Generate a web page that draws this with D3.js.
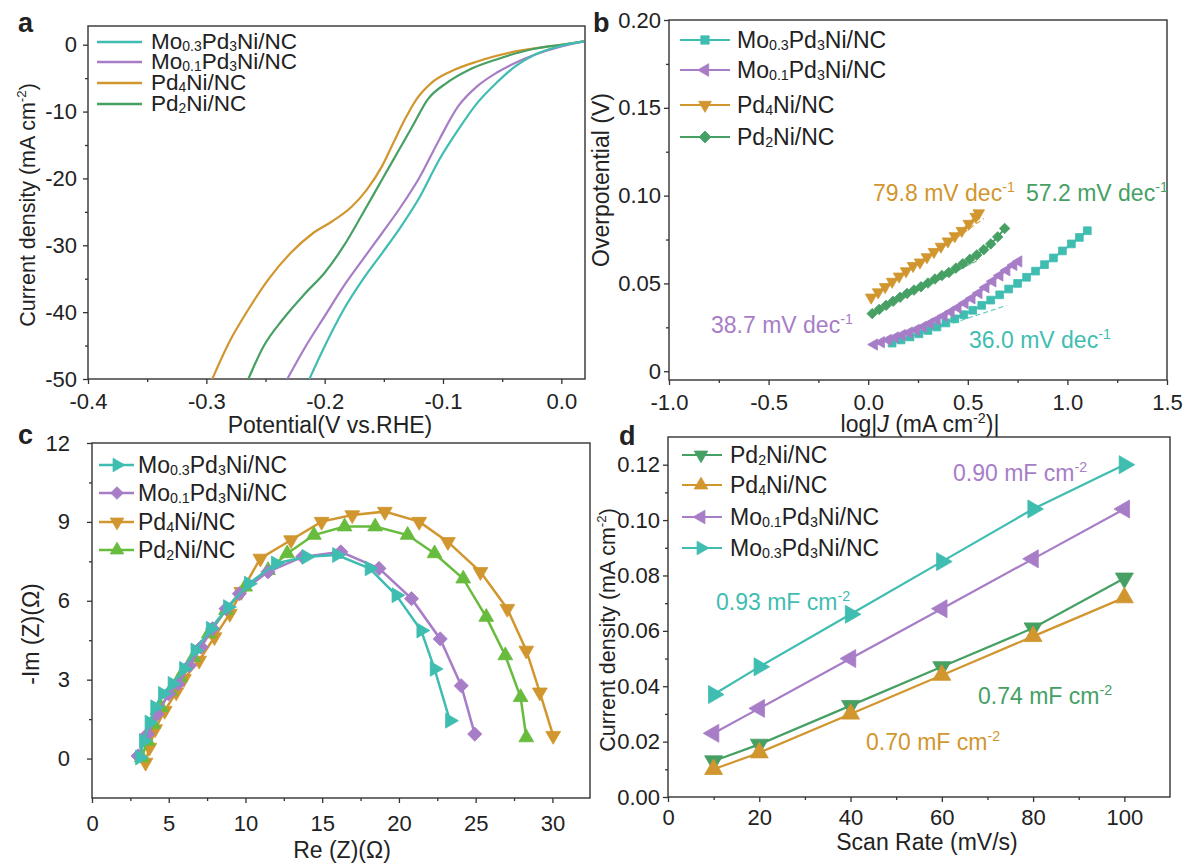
<!DOCTYPE html>
<html><head><meta charset="utf-8">
<script src="https://cdn.jsdelivr.net/npm/d3@7"></script>
<style>
body{margin:0;background:#fff}
svg{display:block}
text{font-family:"Liberation Sans",Arial,Helvetica,sans-serif;fill:#222}
</style>
</head><body>
<svg id="chart" width="1186" height="866"></svg>
<script>
// ---------------- DATA ----------------
const names = {mo03:"Mo{_0.3}Pd{_3}Ni/NC", mo01:"Mo{_0.1}Pd{_3}Ni/NC", pd4:"Pd{_4}Ni/NC", pd2:"Pd{_2}Ni/NC"};

// (a) LSV: potential (V vs RHE) and current density (mA cm-2)
const lsvE_mo03 = [-0.2129,-0.2,-0.1839,-0.1677,-0.1516,-0.1355,-0.1194,-0.1032,-0.0871,-0.071,-0.0548,-0.0387,-0.0226,0,0.019];
const lsvJ_mo03 = [-50,-45.1,-39.6,-35.1,-31.2,-27.2,-22.7,-17.2,-12.7,-8.7,-5.7,-3.2,-1.5,-0.15,0.5];
const lsvE_mo01 = [-0.2316,-0.216,-0.2,-0.1839,-0.1677,-0.1516,-0.1355,-0.1194,-0.1032,-0.0871,-0.071,-0.0548,-0.0387,-0.0226,0,0.019];
const lsvJ_mo01 = [-50,-45.1,-40.6,-36.1,-32.1,-28.2,-24.2,-19.7,-14.2,-9.2,-6.2,-4.2,-2.7,-1.5,-0.25,0.5];
const lsvE_pd4 = [-0.295,-0.281,-0.2645,-0.248,-0.229,-0.21,-0.1935,-0.177,-0.1645,-0.1516,-0.142,-0.1323,-0.1226,-0.1097,-0.0935,-0.071,-0.0387,0,0.019];
const lsvJ_pd4 = [-50,-44.6,-39.6,-35.2,-31.2,-28.2,-26.4,-24.2,-21.7,-18.2,-14.7,-11.2,-8.2,-5.7,-4.0,-2.5,-1.0,0,0.5];
const lsvE_pd2 = [-0.2645,-0.2516,-0.2355,-0.216,-0.2,-0.1839,-0.1677,-0.1516,-0.1387,-0.1258,-0.113,-0.0968,-0.0774,-0.0548,-0.0226,0,0.019];
const lsvJ_pd2 = [-50,-45.1,-41.1,-37.1,-34.1,-30.1,-25.2,-20.2,-16.2,-12.2,-8.2,-5.7,-3.7,-2.2,-0.6,0,0.5];

// (b) Tafel: log|J| and overpotential (V)
const tafX_mo03 = [0.12,0.165,0.21,0.255,0.30,0.345,0.39,0.435,0.48,0.525,0.57,0.615,0.66,0.705,0.75,0.795,0.84,0.885,0.93,0.975,1.02,1.06,1.10];
const tafY_mo03 = [0.0160,0.0178,0.0195,0.0213,0.0232,0.0252,0.0275,0.0298,0.0322,0.0347,0.0375,0.0405,0.0435,0.0468,0.0500,0.0535,0.0570,0.0607,0.0645,0.0685,0.0725,0.0762,0.0800];
const tafX_mo01 = [0.03,0.065,0.10,0.135,0.17,0.205,0.24,0.275,0.31,0.345,0.38,0.415,0.45,0.485,0.52,0.555,0.59,0.625,0.66,0.695,0.73,0.755];
const tafY_mo01 = [0.0152,0.0165,0.0178,0.0192,0.0206,0.0220,0.0235,0.0252,0.0272,0.0293,0.0315,0.0338,0.0362,0.0388,0.0415,0.0445,0.0478,0.0512,0.0545,0.0575,0.0605,0.0625];
const tafX_pd4 = [0.015,0.05,0.085,0.12,0.155,0.19,0.225,0.26,0.295,0.33,0.365,0.40,0.435,0.47,0.505,0.54,0.555];
const tafY_pd4 = [0.042,0.045,0.048,0.051,0.054,0.057,0.060,0.062,0.065,0.068,0.071,0.074,0.077,0.080,0.084,0.088,0.090];
const tafX_pd2 = [0.02,0.055,0.09,0.125,0.16,0.195,0.23,0.265,0.30,0.335,0.37,0.405,0.44,0.475,0.51,0.545,0.58,0.615,0.65,0.685];
const tafY_pd2 = [0.0328,0.0352,0.0375,0.0398,0.0421,0.0443,0.0462,0.0481,0.0502,0.0525,0.0545,0.0562,0.0587,0.0612,0.0637,0.0662,0.0692,0.0725,0.0765,0.0813];
// Tafel fit lines (start x, start y, end x, end y)
const fit_mo03 = [0.12,0.016,0.695,0.0375];
const fit_mo01 = [0.03,0.0152,0.52,0.0342];
const fit_pd4 = [0.017,0.042,0.58,0.0869];
const fit_pd2 = [0.02,0.0328,0.56,0.0637];
const tafelSlopes = ["79.8 mV dec{^-1}","57.2 mV dec{^-1}","38.7 mV dec{^-1}","36.0 mV dec{^-1}"];

// (c) Nyquist: Re(Z) and -Im(Z) (ohm)
const eisRe_mo03 = [3.12,3.37,3.74,4.11,4.61,5.24,5.99,6.73,7.73,8.85,10.22,11.97,13.97,15.96,18.08,19.83,21.45,22.32,23.32];
const eisIm_mo03 = [0.04,0.67,1.37,1.95,2.46,2.84,3.41,4.11,4.94,5.76,6.65,7.42,7.67,7.74,7.23,6.21,4.87,3.41,1.44];
const eisRe_mo01 = [3.0,3.62,4.24,4.99,5.61,6.36,7.11,7.86,8.73,9.6,11.47,13.72,16.21,18.70,20.82,22.69,24.06,24.94];
const eisIm_mo01 = [0.1,0.93,1.69,2.46,2.84,3.54,4.24,4.94,5.70,6.27,7.10,7.67,7.86,7.23,6.08,4.55,2.77,0.93];
const eisRe_pd4 = [3.49,3.74,4.11,4.74,5.49,5.99,6.98,7.98,8.98,9.73,10.97,12.97,14.96,16.96,19.08,21.32,23.19,25.31,27.06,28.30,29.18,30.05];
const eisIm_pd4 = [-0.15,0.42,1.12,1.82,2.52,3.03,3.73,4.62,5.51,6.34,7.61,8.31,9.01,9.26,9.39,9.01,8.24,7.10,5.70,4.11,2.52,0.87];
const eisRe_pd2 = [3.24,3.62,3.99,4.49,5.11,5.74,6.61,7.61,8.73,9.98,11.47,12.72,14.46,16.46,18.45,20.57,22.32,24.19,25.69,26.93,27.93,28.30];
const eisIm_pd2 = [0.04,0.67,1.31,1.95,2.58,3.09,3.85,4.75,5.64,6.53,7.16,7.80,8.50,8.82,8.82,8.50,7.80,6.84,5.38,3.92,2.33,0.80];

// (d) Cdl: scan rate (mV/s) and current density (mA cm-2)
const scanRate = [10,20,40,60,80,100];
const cdl_mo03 = [0.037,0.047,0.066,0.085,0.104,0.120];
const cdl_mo01 = [0.023,0.032,0.050,0.068,0.086,0.104];
const cdl_pd2 = [0.013,0.019,0.033,0.047,0.061,0.079];
const cdl_pd4 = [0.010,0.016,0.030,0.044,0.058,0.072];
const cdlLabels = ["0.90 mF cm{^-2}","0.93 mF cm{^-2}","0.74 mF cm{^-2}","0.70 mF cm{^-2}"];

// tick labels
const aXTicks = [-0.4,-0.3,-0.2,-0.1,0], aXLabels = ["-0.4","-0.3","-0.2","-0.1","0.0"];
const aYTicks = [0,-10,-20,-30,-40,-50], aYLabels = ["0","-10","-20","-30","-40","-50"];
const bXTicks = [-1,-0.5,0,0.5,1,1.5], bXLabels = ["-1.0","-0.5","0.0","0.5","1.0","1.5"];
const bYTicks = [0,0.05,0.1,0.15,0.2], bYLabels = ["0","0.05","0.10","0.15","0.20"];
const cXTicks = [0,5,10,15,20,25,30], cXLabels = ["0","5","10","15","20","25","30"];
const cYTicks = [0,3,6,9,12], cYLabels = ["0","3","6","9","12"];
const dXTicks = [0,20,40,60,80,100], dXLabels = ["0","20","40","60","80","100"];
const dYTicks = [0,0.02,0.04,0.06,0.08,0.1,0.12], dYLabels = ["0.00","0.02","0.04","0.06","0.08","0.10","0.12"];

// ---------------- STYLE ----------------
const COL = {mo03:"#3fbdb1", mo01:"#a77dc7", pd4:"#d1962e", pd2:"#46a064", pd2c:"#67bb3d"};
const FONT = '"Liberation Sans", Arial, Helvetica, sans-serif';
const svg = d3.select("#chart");

function rich(sel, str, size){
  const re = /\{([_^*])([^}]*)\}/g; let last = 0, m, shift = 0;
  const add = (t, kind) => {
    if(!t) return;
    const ts = sel.append("tspan").text(t);
    let target = 0;
    if(kind === "_"){ ts.attr("font-size", size*0.62); target = size*0.1; }
    else if(kind === "^"){ ts.attr("font-size", size*0.62); target = -size*0.4; }
    else if(kind === "*"){ ts.attr("font-style","italic"); }
    if(target !== shift){ ts.attr("dy", target - shift); shift = target; }
  };
  while((m = re.exec(str))){ add(str.slice(last, m.index), ""); add(m[2], m[1]); last = re.lastIndex; }
  add(str.slice(last), "");
  return sel;
}
function label(g, x, y, str, size, opts={}){
  const t = g.append("text").attr("x", x).attr("y", y).attr("font-size", size)
    .attr("text-anchor", opts.anchor || "start").style("fill", opts.color || "#222");
  if(opts.rotate) t.attr("transform", `rotate(${opts.rotate},${x},${y})`);
  if(opts.bold) t.attr("font-weight","bold");
  return rich(t, str, size);
}
function symPath(type, size){
  const base = {sq:d3.symbolSquare, dia:d3.symbolSquare}[type] || d3.symbolTriangle;
  return d3.symbol().type(base).size(size)();
}
function symRot(type){
  return {up:0, down:180, left:-90, right:90, sq:0, dia:45}[type];
}
function marker(g, x, y, type, size, color){
  g.append("path").attr("d", symPath(type, size))
    .attr("transform", `translate(${x},${y}) rotate(${symRot(type)})`)
    .attr("fill", color).attr("stroke", color).attr("stroke-width", 0.8);
}

function makePanel(p){
  const g = svg.append("g");
  const x = d3.scaleLinear().domain(p.xd).range([p.l, p.r]);
  const y = d3.scaleLinear().domain(p.yd).range([p.b, p.t]);
  const style = s => s.attr("font-size", 22).attr("font-family", FONT).attr("color", "#333")
     .call(a => a.select(".domain").remove())
     .call(a => a.selectAll("line").attr("stroke-width", 1.3))
     .call(a => a.selectAll("text").style("fill", "#222"));
  g.append("g").attr("transform", `translate(0,${p.b})`)
    .call(d3.axisBottom(x).tickValues(p.xm).tickFormat("").tickSize(3).tickSizeOuter(0)).call(style);
  g.append("g").attr("transform", `translate(${p.l},0)`)
    .call(d3.axisLeft(y).tickValues(p.ym).tickFormat("").tickSize(3).tickSizeOuter(0)).call(style);
  g.append("g").attr("transform", `translate(0,${p.b})`)
    .call(d3.axisBottom(x).tickValues(p.xt).tickFormat((d,i) => p.xl[i]).tickSize(5).tickPadding(p.xpad).tickSizeOuter(0)).call(style);
  g.append("g").attr("transform", `translate(${p.l},0)`)
    .call(d3.axisLeft(y).tickValues(p.yt).tickFormat((d,i) => p.yl[i]).tickSize(5).tickPadding(p.ypad).tickSizeOuter(0)).call(style);
  g.append("rect").attr("x", p.l).attr("y", p.t).attr("width", p.r - p.l).attr("height", p.b - p.t)
    .attr("fill", "none").attr("stroke", "#333").attr("stroke-width", 1.4);
  const id = "clip" + p.id;
  svg.append("clipPath").attr("id", id).append("rect")
    .attr("x", p.l).attr("y", p.t).attr("width", p.r - p.l).attr("height", p.b - p.t);
  return {g, x, y, clip: `url(#${id})`};
}

// ---------------- PANEL A ----------------
{
  const P = makePanel({id:"a", l:88, r:585, t:26, b:379, xd:[-0.4,0.02], yd:[-50,2.8],
    xt:aXTicks, xl:aXLabels, xm:[-0.35,-0.25,-0.15,-0.05], yt:aYTicks, yl:aYLabels, ym:[-5,-15,-25,-35,-45], xpad:9, ypad:6});
  const series = [
    {k:"pd4", xs:lsvE_pd4, ys:lsvJ_pd4},
    {k:"pd2", xs:lsvE_pd2, ys:lsvJ_pd2},
    {k:"mo01", xs:lsvE_mo01, ys:lsvJ_mo01},
    {k:"mo03", xs:lsvE_mo03, ys:lsvJ_mo03}];
  const line = d3.line().x(d => P.x(d[0])).y(d => P.y(d[1])).curve(d3.curveMonotoneX);
  const dg = P.g.append("g").attr("clip-path", P.clip);
  series.forEach(s => {
    dg.append("path").datum(d3.zip(s.xs, s.ys)).attr("d", line)
      .attr("fill","none").attr("stroke", COL[s.k]).attr("stroke-width", 2.2);
  });
  const leg = [["mo03",42],["mo01",62],["pd4",83],["pd2",104]];
  leg.forEach(([k, yy]) => {
    P.g.append("line").attr("x1", 97).attr("x2", 142).attr("y1", yy).attr("y2", yy)
      .attr("stroke", COL[k]).attr("stroke-width", 2.5);
    label(P.g, 151, yy + 7, names[k], 22.5);
  });
  label(P.g, 330, 433, "Potential(V vs.RHE)", 23, {anchor:"middle"});
  label(P.g, 35, 205, "Current density (mA cm{^-2})", 21.5, {anchor:"middle", rotate:-90});
  label(svg, 18, 32, "a", 27, {bold:true});
}

// ---------------- PANEL B ----------------
{
  const P = makePanel({id:"b", l:669, r:1167, t:20, b:380, xd:[-1,1.5], yd:[-0.005,0.2],
    xt:bXTicks, xl:bXLabels, xm:[-0.75,-0.25,0.25,0.75,1.25], yt:bYTicks, yl:bYLabels, ym:[0.025,0.075,0.125,0.175], xpad:9, ypad:3});
  const series = [
    {k:"mo03", xs:tafX_mo03, ys:tafY_mo03, fit:fit_mo03, m:"sq", size:60},
    {k:"mo01", xs:tafX_mo01, ys:tafY_mo01, fit:fit_mo01, m:"left", size:55},
    {k:"pd2", xs:tafX_pd2, ys:tafY_pd2, fit:fit_pd2, m:"dia", size:55},
    {k:"pd4", xs:tafX_pd4, ys:tafY_pd4, fit:fit_pd4, m:"down", size:58}];
  const line = d3.line().x(d => P.x(d[0])).y(d => P.y(d[1]));
  series.forEach(s => {
    P.g.append("line").attr("x1", P.x(s.fit[0])).attr("y1", P.y(s.fit[1]))
      .attr("x2", P.x(s.fit[2])).attr("y2", P.y(s.fit[3]))
      .attr("stroke", COL[s.k]).attr("stroke-width", 1.2).attr("stroke-dasharray", "5,3").attr("opacity", 0.8);
  });
  series.forEach(s => {
    const pts = d3.zip(s.xs, s.ys);
    P.g.append("path").datum(pts).attr("d", line).attr("fill","none").attr("stroke", COL[s.k]).attr("stroke-width", 2);
    pts.forEach(p => marker(P.g, P.x(p[0]), P.y(p[1]), s.m, s.size, COL[s.k]));
  });
  const leg = [["mo03","sq",40],["mo01","left",70],["pd4","down",105],["pd2","dia",137]];
  leg.forEach(([k, m, yy]) => {
    P.g.append("line").attr("x1", 680).attr("x2", 730).attr("y1", yy).attr("y2", yy)
      .attr("stroke", COL[k]).attr("stroke-width", 2.2);
    marker(P.g, 705, yy, m, 70, COL[k]);
    label(P.g, 737, yy + 8, names[k], 23);
  });
  label(P.g, 873, 201, tafelSlopes[0], 23, {color:COL.pd4});
  label(P.g, 1026, 201, tafelSlopes[1], 23, {color:COL.pd2});
  label(P.g, 711, 333, tafelSlopes[2], 23, {color:COL.mo01});
  label(P.g, 969, 348, tafelSlopes[3], 23, {color:COL.mo03});
  label(P.g, 920, 432, "log|{*J} (mA cm{^-2})|", 23, {anchor:"middle"});
  label(P.g, 609, 180, "Overpotential (V)", 23, {anchor:"middle", rotate:-90});
  label(svg, 593, 32, "b", 27, {bold:true});
}

// ---------------- PANEL C ----------------
{
  const P = makePanel({id:"c", l:92, r:590, t:443, b:798, xd:[0,32.45], yd:[-1.5,12],
    xt:cXTicks, xl:cXLabels, xm:[2.5,7.5,12.5,17.5,22.5,27.5], yt:cYTicks, yl:cYLabels, ym:[1.5,4.5,7.5,10.5], xpad:12, ypad:17});
  const series = [
    {k:"pd4", c:COL.pd4, xs:eisRe_pd4, ys:eisIm_pd4, m:"down", size:95},
    {k:"pd2", c:COL.pd2c, xs:eisRe_pd2, ys:eisIm_pd2, m:"up", size:95},
    {k:"mo01", c:COL.mo01, xs:eisRe_mo01, ys:eisIm_mo01, m:"dia", size:100},
    {k:"mo03", c:COL.mo03, xs:eisRe_mo03, ys:eisIm_mo03, m:"right", size:95}];
  const line = d3.line().x(d => P.x(d[0])).y(d => P.y(d[1]));
  series.forEach(s => {
    const pts = d3.zip(s.xs, s.ys);
    P.g.append("path").datum(pts).attr("d", line).attr("fill","none").attr("stroke", s.c).attr("stroke-width", 2.5);
    pts.forEach(p => marker(P.g, P.x(p[0]), P.y(p[1]), s.m, s.size, s.c));
  });
  const leg = [["mo03",COL.mo03,"right",465],["mo01",COL.mo01,"dia",493],["pd4",COL.pd4,"down",522],["pd2",COL.pd2c,"up",550]];
  leg.forEach(([k, c, m, yy]) => {
    P.g.append("line").attr("x1", 99).attr("x2", 134).attr("y1", yy).attr("y2", yy)
      .attr("stroke", c).attr("stroke-width", 2.5);
    marker(P.g, 117, yy, m, 80, c);
    label(P.g, 138, yy + 8, names[k], 23);
  });
  label(P.g, 342, 858, "Re (Z)(Ω)", 23, {anchor:"middle"});
  label(P.g, 39, 634, "-Im (Z)(Ω)", 23, {anchor:"middle", rotate:-90});
  label(svg, 18, 444, "c", 27, {bold:true});
}

// ---------------- PANEL D ----------------
{
  const P = makePanel({id:"d", l:668, r:1170, t:437, b:797, xd:[0,110], yd:[0,0.13],
    xt:dXTicks, xl:dXLabels, xm:[10,30,50,70,90], yt:dYTicks, yl:dYLabels, ym:[0.01,0.03,0.05,0.07,0.09,0.11], xpad:7, ypad:3});
  const series = [
    {k:"pd2", ys:cdl_pd2, m:"down"},
    {k:"pd4", ys:cdl_pd4, m:"up"},
    {k:"mo01", ys:cdl_mo01, m:"left"},
    {k:"mo03", ys:cdl_mo03, m:"right"}];
  const line = d3.line().x(d => P.x(d[0])).y(d => P.y(d[1]));
  series.forEach(s => {
    const pts = d3.zip(scanRate, s.ys);
    P.g.append("path").datum(pts).attr("d", line).attr("fill","none").attr("stroke", COL[s.k]).attr("stroke-width", 2.2);
    pts.forEach(p => marker(P.g, P.x(p[0]), P.y(p[1]), s.m, 140, COL[s.k]));
  });
  const leg = [["pd2","down",455],["pd4","up",485],["mo01","left",517],["mo03","right",548]];
  leg.forEach(([k, m, yy]) => {
    P.g.append("line").attr("x1", 682).attr("x2", 722).attr("y1", yy).attr("y2", yy)
      .attr("stroke", COL[k]).attr("stroke-width", 2.2);
    marker(P.g, 701, yy, m, 80, COL[k]);
    label(P.g, 730, yy + 8, names[k], 23);
  });
  label(P.g, 953, 481, cdlLabels[0], 23, {color:COL.mo01});
  label(P.g, 716, 610, cdlLabels[1], 23, {color:COL.mo03});
  label(P.g, 978, 704, cdlLabels[2], 23, {color:COL.pd2});
  label(P.g, 866, 750, cdlLabels[3], 23, {color:COL.pd4});
  label(P.g, 927, 850, "Scan Rate (mV/s)", 23, {anchor:"middle"});
  label(P.g, 615, 630, "Current density (mA cm{^-2})", 21.5, {anchor:"middle", rotate:-90});
  label(svg, 619, 445, "d", 27, {bold:true});
}
</script>
</body></html>
